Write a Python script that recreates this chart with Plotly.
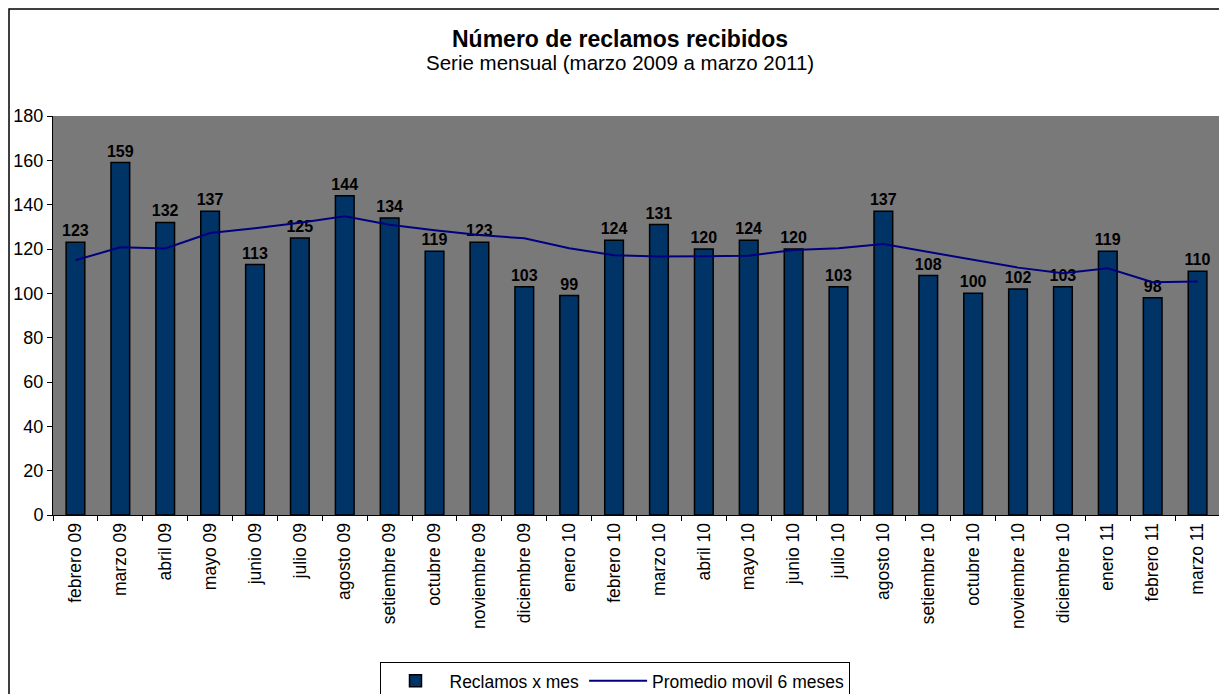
import plotly.graph_objects as go

months = ["febrero 09", "marzo 09", "abril 09", "mayo 09", "junio 09", "julio 09",
          "agosto 09", "setiembre 09", "octubre 09", "noviembre 09", "diciembre 09",
          "enero 10", "febrero 10", "marzo 10", "abril 10", "mayo 10", "junio 10",
          "julio 10", "agosto 10", "setiembre 10", "octubre 10", "noviembre 10",
          "diciembre 10", "enero 11", "febrero 11", "marzo 11"]
reclamos = [123, 159, 132, 137, 113, 125, 144, 134, 119, 123, 103, 99, 124, 131,
            120, 124, 120, 103, 137, 108, 100, 102, 103, 119, 98, 110]
promedio = [114.9, 120.8, 120.2, 127.2, 129.4, 131.8, 134.8, 130.9, 128.5, 126.3,
            124.8, 120.3, 117.2, 116.6, 116.7, 117.0, 119.6, 120.3, 122.2, 118.7,
            115.1, 111.6, 109.1, 111.3, 105.0, 105.3]
y_ticks = [0, 20, 40, 60, 80, 100, 120, 140, 160, 180]

FONT = "Liberation Sans, Arial, sans-serif"

fig = go.Figure()
fig.add_trace(go.Bar(
    x=months, y=reclamos, name="Reclamos x mes",
    marker=dict(color="#003366", line=dict(color="#000000", width=1.5)),
    text=[str(v) for v in reclamos], textposition="outside",
    textfont=dict(family=FONT, size=16, color="#000000", weight="bold"),
    constraintext="none", cliponaxis=False,
))
fig.add_trace(go.Scatter(
    x=months, y=promedio, name="Promedio movil 6 meses", mode="lines",
    line=dict(color="#000080", width=2),
))

title_text = ("<span style='font-size:23px'><b>Número de reclamos recibidos</b></span><br>"
              "<span style='font-size:20.5px'>Serie mensual (marzo 2009 a marzo 2011)</span>")

fig.update_layout(
    width=1219, height=686,
    margin=dict(l=45, r=7, t=108, b=179, autoexpand=False),
    paper_bgcolor="#ffffff", plot_bgcolor="#797979",
    font=dict(family=FONT, size=17, color="#000000"),
    bargap=0.584,
    showlegend=True,
    legend=dict(orientation="h", x=0.482, xanchor="center", y=-0.368, yanchor="top",
                bordercolor="#000000", borderwidth=1, bgcolor="#ffffff",
                font=dict(family=FONT, size=17.5), traceorder="normal",
                itemwidth=58),
    annotations=[
        dict(text=title_text, xref="paper", yref="paper",
             x=0.4860, y=1.165, xanchor="center", yanchor="middle", showarrow=False,
             align="center", font=dict(family=FONT, size=17.5)),
    ],
    shapes=[dict(type="rect", xref="paper", yref="paper", x0=-0.0377, x1=1.05,
                 y0=-0.6, y1=1.268, line=dict(color="#000000", width=1.5),
                 fillcolor="rgba(0,0,0,0)", layer="below")],
)
fig.update_xaxes(
    type="category", tickangle=-90, showline=True, linecolor="#000000", linewidth=1,
    ticks="outside", tickson="boundaries", ticklen=5, tickcolor="#000000",
    showgrid=False, tickfont=dict(family=FONT, size=17.5), mirror=False,
)
fig.update_yaxes(
    range=[0, 180], tickvals=y_ticks, showline=True, linecolor="#000000", linewidth=1,
    ticks="outside", ticklen=5, tickcolor="#000000", showgrid=False, zeroline=False,
    tickfont=dict(family=FONT, size=18),
)

fig.write_html("out.html")
